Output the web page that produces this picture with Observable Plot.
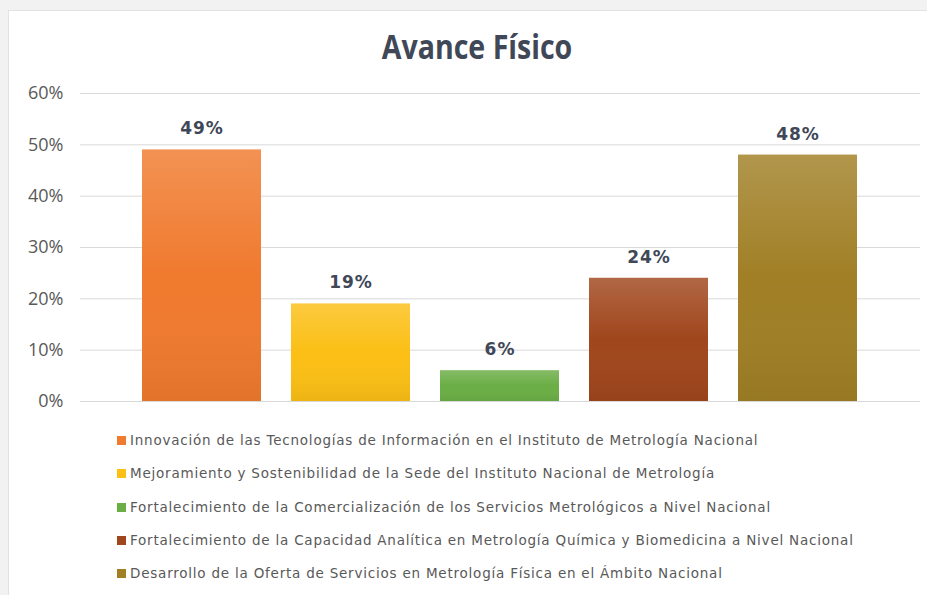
<!DOCTYPE html>
<html>
<head>
<meta charset="utf-8">
<script src="https://cdn.jsdelivr.net/npm/d3@7"></script>
<script src="https://cdn.jsdelivr.net/npm/@observablehq/plot@0.6"></script>
<style>
  html, body { margin: 0; padding: 0; background: #f2f2f2; width: 927px; height: 595px; overflow: hidden; }
  #frame { position: absolute; left: 8px; top: 10px; width: 919px; height: 585px; background: #fff;
           border-left: 1px solid #e2e2e2; border-top: 1px solid #e2e2e2; box-sizing: border-box; }
  #title { position: absolute; left: 277px; width: 400px; top: 22px; text-align: center;
           font-family: "Open Sans", sans-serif; font-weight: 700; font-size: 34px; line-height: 48px; color: #404858;
           transform: scaleX(0.84); transform-origin: 50% 50%; }
  #chart { position: absolute; left: 0; top: 80px; }
  #legend { position: absolute; left: 117px; top: 432px; font-family: "DejaVu Sans", Verdana, sans-serif;
            font-size: 13.5px; letter-spacing: 0.78px; color: #595959; }
  .row { height: 33.3px; display: flex; align-items: flex-start; white-space: nowrap; line-height: 16px; }
  .sw { width: 9px; height: 9px; margin-right: 4px; margin-top: 4px; flex: none; }
</style>
</head>
<body>
<div id="frame"></div>
<div id="title">Avance Físico</div>
<div id="chart"></div>
<div id="legend"></div>
<script>
const categories = [
  "Innovación de las Tecnologías de Información en el Instituto de Metrología Nacional",
  "Mejoramiento y Sostenibilidad de la Sede del Instituto Nacional de Metrología",
  "Fortalecimiento de la Comercialización de los Servicios Metrológicos a Nivel Nacional",
  "Fortalecimiento de la Capacidad Analítica en Metrología Química y Biomedicina a Nivel Nacional",
  "Desarrollo de la Oferta de Servicios en Metrología Física en el Ámbito Nacional"
];
const values = [49, 19, 6, 24, 48];
const colors = ["#F07A2E", "#FBBF15", "#6BAE45", "#A0461C", "#A07F25"];
const yTicks = [0, 10, 20, 30, 40, 50, 60];
const yTickLabels = ["0%", "10%", "20%", "30%", "40%", "50%", "60%"];

const data = categories.map((c, i) => ({cat: c, value: values[i], color: colors[i]}));

const defs = () => {
  const ns = "http://www.w3.org/2000/svg";
  const d = document.createElementNS(ns, "defs");
  const g = document.createElementNS(ns, "linearGradient");
  g.setAttribute("id", "shade");
  g.setAttribute("x1", "0"); g.setAttribute("y1", "0");
  g.setAttribute("x2", "0"); g.setAttribute("y2", "1");
  [["0", "#ffffff", 0.18], ["0.5", "#ffffff", 0.0], ["1", "#000000", 0.06]].forEach(([o, c, op]) => {
    const s = document.createElementNS(ns, "stop");
    s.setAttribute("offset", o); s.setAttribute("stop-color", c); s.setAttribute("stop-opacity", op);
    g.appendChild(s);
  });
  d.appendChild(g);
  return d;
};

const plot = Plot.plot({
  width: 927,
  height: 340,
  marginLeft: 80,
  marginRight: 7,
  marginTop: 13,
  marginBottom: 19,
  style: { fontFamily: "'Open Sans', sans-serif", background: "transparent" },
  x: { domain: categories, paddingInner: 0.2, paddingOuter: 0.41, axis: null },
  y: { domain: [0, 60], label: null, axis: null },
  color: { type: "identity" },
  marks: [
    defs,
    Plot.ruleY(yTicks, { stroke: "#d9d9d9", strokeWidth: 1 }),
    Plot.axisY(yTicks, { tickSize: 0, tickPadding: 17, fontSize: 18, fill: "#595959",
                         tickFormat: (d) => yTickLabels[yTicks.indexOf(d)], label: null }),
    Plot.barY(data, { x: "cat", y: "value", fill: "color" }),
    Plot.barY(data, { x: "cat", y: "value", fill: "url(#shade)" }),
    Plot.text(data, { x: "cat", y: "value", text: d => d.value + "%", dy: -21,
                      fontFamily: "'DejaVu Sans', Verdana, sans-serif",
                      fontWeight: "bold", fontSize: 17, fill: "#404858" })
  ]
});
plot.querySelectorAll("text").forEach(el => {
  if (/%$/.test(el.textContent) && el.closest("[aria-label='text']")) el.style.letterSpacing = "1px";
});
document.getElementById("chart").appendChild(plot);

const legend = document.getElementById("legend");
categories.forEach((c, i) => {
  const row = document.createElement("div");
  row.className = "row";
  const sw = document.createElement("span");
  sw.className = "sw"; sw.style.background = colors[i];
  const t = document.createElement("span");
  t.textContent = c;
  row.appendChild(sw); row.appendChild(t);
  legend.appendChild(row);
});
</script>
</body>
</html>
